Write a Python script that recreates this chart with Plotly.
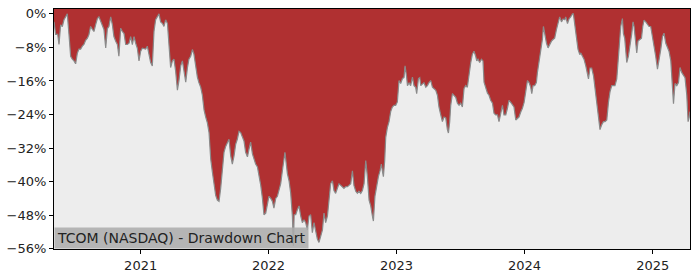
import pandas as pd
import plotly.graph_objects as go

# Time as decimal years
years = [
    2020.323, 2020.336, 2020.352, 2020.362, 2020.375, 2020.388, 2020.401, 2020.414, 2020.427, 2020.440,
    2020.453, 2020.466, 2020.479, 2020.492, 2020.505, 2020.518, 2020.531, 2020.544, 2020.557, 2020.570,
    2020.584, 2020.596, 2020.609, 2020.623, 2020.635, 2020.648, 2020.662, 2020.674, 2020.688, 2020.701,
    2020.713, 2020.727, 2020.740, 2020.752, 2020.766, 2020.779, 2020.791, 2020.805, 2020.818, 2020.830,
    2020.844, 2020.857, 2020.870, 2020.883, 2020.896, 2020.909, 2020.922, 2020.935, 2020.948, 2020.961,
    2020.974, 2020.987, 2021.000, 2021.013, 2021.026, 2021.039, 2021.052, 2021.065, 2021.078, 2021.091,
    2021.104, 2021.117, 2021.130, 2021.143, 2021.156, 2021.170, 2021.182, 2021.195, 2021.209, 2021.221,
    2021.234, 2021.248, 2021.260, 2021.273, 2021.287, 2021.299, 2021.313, 2021.326, 2021.338, 2021.352,
    2021.365, 2021.377, 2021.391, 2021.404, 2021.416, 2021.430, 2021.443, 2021.455, 2021.469, 2021.482,
    2021.495, 2021.508, 2021.521, 2021.534, 2021.547, 2021.560, 2021.573, 2021.586, 2021.599, 2021.612,
    2021.625, 2021.638, 2021.651, 2021.664, 2021.677, 2021.690, 2021.703, 2021.716, 2021.729, 2021.742,
    2021.755, 2021.768, 2021.781, 2021.795, 2021.807, 2021.820, 2021.834, 2021.846, 2021.859, 2021.873,
    2021.885, 2021.898, 2021.912, 2021.924, 2021.938, 2021.951, 2021.963, 2021.977, 2021.990, 2022.002,
    2022.016, 2022.029, 2022.041, 2022.055, 2022.068, 2022.080, 2022.094, 2022.107, 2022.120, 2022.127,
    2022.133, 2022.146, 2022.159, 2022.172, 2022.185, 2022.193, 2022.199, 2022.211, 2022.224, 2022.237,
    2022.250, 2022.263, 2022.276, 2022.289, 2022.302, 2022.315, 2022.328, 2022.341, 2022.354, 2022.367,
    2022.380, 2022.393, 2022.406, 2022.420, 2022.432, 2022.445, 2022.459, 2022.471, 2022.484, 2022.498,
    2022.510, 2022.523, 2022.537, 2022.549, 2022.563, 2022.576, 2022.588, 2022.602, 2022.615, 2022.627,
    2022.641, 2022.654, 2022.666, 2022.680, 2022.693, 2022.705, 2022.719, 2022.732, 2022.745, 2022.758,
    2022.771, 2022.784, 2022.797, 2022.810, 2022.818, 2022.830, 2022.844, 2022.857, 2022.870, 2022.880,
    2022.888, 2022.896, 2022.906, 2022.914, 2022.927, 2022.940, 2022.953, 2022.966, 2022.979, 2022.992,
    2023.005, 2023.013, 2023.018, 2023.031, 2023.045, 2023.057, 2023.065, 2023.076, 2023.084, 2023.096,
    2023.109, 2023.123, 2023.135, 2023.148, 2023.156, 2023.170, 2023.180, 2023.188, 2023.201, 2023.213,
    2023.227, 2023.240, 2023.252, 2023.266, 2023.279, 2023.291, 2023.305, 2023.318, 2023.330, 2023.344,
    2023.357, 2023.370, 2023.383, 2023.396, 2023.404, 2023.414, 2023.422, 2023.435, 2023.448, 2023.461,
    2023.474, 2023.487, 2023.500, 2023.513, 2023.526, 2023.539, 2023.552, 2023.565, 2023.578, 2023.591,
    2023.604, 2023.617, 2023.625, 2023.635, 2023.648, 2023.662, 2023.674, 2023.682, 2023.695, 2023.709,
    2023.721, 2023.734, 2023.748, 2023.760, 2023.773, 2023.787, 2023.799, 2023.813, 2023.826, 2023.838,
    2023.852, 2023.865, 2023.877, 2023.891, 2023.904, 2023.916, 2023.930, 2023.943, 2023.955, 2023.969,
    2023.982, 2023.995, 2024.008, 2024.021, 2024.034, 2024.047, 2024.055, 2024.065, 2024.078, 2024.091,
    2024.099, 2024.112, 2024.125, 2024.138, 2024.146, 2024.156, 2024.170, 2024.182, 2024.195, 2024.209,
    2024.221, 2024.234, 2024.248, 2024.260, 2024.273, 2024.287, 2024.299, 2024.313, 2024.320, 2024.334,
    2024.346, 2024.359, 2024.373, 2024.380, 2024.391, 2024.404, 2024.416, 2024.430, 2024.438, 2024.451,
    2024.463, 2024.477, 2024.490, 2024.498, 2024.510, 2024.523, 2024.537, 2024.549, 2024.563, 2024.576,
    2024.588, 2024.602, 2024.615, 2024.627, 2024.641, 2024.654, 2024.666, 2024.680, 2024.693, 2024.705,
    2024.719, 2024.729, 2024.742, 2024.750, 2024.763, 2024.771, 2024.781, 2024.789, 2024.797, 2024.810,
    2024.823, 2024.836, 2024.846, 2024.854, 2024.862, 2024.875, 2024.885, 2024.898, 2024.912, 2024.922,
    2024.932, 2024.945, 2024.959, 2024.971, 2024.984, 2024.998, 2025.010, 2025.023, 2025.037, 2025.049,
    2025.063, 2025.076, 2025.088, 2025.102, 2025.115, 2025.127, 2025.141, 2025.154, 2025.162, 2025.174,
    2025.188, 2025.201, 2025.213, 2025.227, 2025.240, 2025.252, 2025.266, 2025.276, 2025.284, 2025.291,
]

# Drawdown in percent
drawdown = [
    -1.9, -4.9, -4.9, -7.3, -2.6, -3.0, -1.4, -0.7, 0.0, -4.9,
    -10.1, -10.8, -11.2, -11.9, -9.4, -8.4, -8.4, -7.7, -7.3, -6.3,
    -5.8, -4.9, -3.0, -3.7, -4.2, -2.6, -1.1, -0.7, -1.9, -3.0,
    -3.7, -8.1, -3.5, -3.0, -0.7, -2.6, -5.4, -6.5, -7.3, -10.1,
    -3.4, -4.2, -4.7, -7.3, -7.3, -7.0, -5.4, -7.3, -5.4, -7.0,
    -8.2, -11.2, -8.9, -8.2, -8.4, -8.4, -7.7, -9.6, -11.6, -12.4,
    -4.2, -1.4, -0.7, 0.0, -1.9, -2.3, -3.0, -1.4, -2.3, -6.5,
    -12.8, -11.2, -10.8, -13.6, -18.2, -15.9, -12.4, -11.2, -13.6, -16.3,
    -12.9, -10.8, -10.1, -8.5, -9.6, -12.9, -15.1, -16.4, -17.5, -19.4,
    -22.9, -24.6, -26.0, -28.3, -34.6, -37.7, -40.0, -43.3, -44.4, -44.7,
    -41.6, -37.0, -33.0, -31.6, -30.6, -29.9, -33.8, -35.8, -33.9, -31.1,
    -29.9, -28.0, -28.3, -29.2, -30.3, -33.0, -34.1, -32.3, -30.6, -33.4,
    -34.6, -35.8, -36.5, -38.5, -40.9, -44.0, -47.9, -47.5, -45.1, -43.5,
    -44.0, -44.7, -46.3, -44.0, -43.5, -42.1, -40.5, -37.4, -33.4, -33.0,
    -34.6, -38.1, -39.8, -42.8, -48.2, -55.3, -47.9, -47.9, -46.7, -45.8,
    -48.2, -49.8, -49.1, -49.8, -51.5, -48.2, -47.9, -52.2, -49.8, -52.2,
    -53.7, -54.5, -52.9, -51.5, -47.5, -49.8, -48.2, -45.1, -40.5, -39.8,
    -42.1, -42.8, -41.6, -40.5, -40.9, -41.2, -41.6, -41.2, -41.2, -40.9,
    -40.5, -37.4, -40.9, -42.3, -42.8, -42.3, -42.8, -42.1, -40.5, -35.0,
    -38.8, -44.4, -45.8, -48.2, -49.4, -43.5, -40.5, -38.8, -37.4, -35.8,
    -37.4, -38.8, -35.1, -29.5, -27.1, -25.7, -23.3, -22.2, -21.8, -21.8,
    -21.0, -16.3, -15.9, -16.6, -15.4, -15.2, -12.4, -14.7, -17.1, -16.4,
    -17.1, -15.1, -17.1, -17.5, -19.0, -15.4, -15.2, -17.1, -16.6, -16.4,
    -17.5, -17.1, -16.4, -15.9, -17.5, -17.8, -18.2, -19.4, -22.2, -24.1,
    -25.7, -24.6, -24.8, -27.6, -28.4, -25.7, -21.8, -19.0, -19.4, -19.9,
    -21.3, -21.8, -21.3, -22.2, -17.8, -17.1, -17.5, -14.0, -11.7, -9.6,
    -8.9, -10.1, -11.2, -10.8, -11.6, -10.8, -11.2, -16.3, -17.8, -18.9,
    -19.4, -20.6, -21.3, -23.7, -24.1, -24.1, -25.7, -23.4, -21.8, -24.1,
    -24.1, -22.5, -20.6, -21.1, -21.8, -22.2, -25.3, -24.8, -24.6, -23.4,
    -22.5, -21.1, -17.8, -15.9, -16.4, -17.5, -19.0, -17.1, -17.1, -16.4,
    -14.0, -11.7, -8.5, -6.1, -3.0, -4.7, -7.0, -8.1, -7.3, -6.5,
    -6.1, -5.8, -3.7, -1.9, -0.7, -1.9, -1.2, -1.4, -0.7, -2.3,
    -1.2, -0.7, 0.0, 0.0, -3.0, -5.4, -8.4, -9.7, -9.3, -10.1,
    -10.8, -12.4, -14.7, -15.5, -12.9, -12.9, -14.7, -17.8, -20.1, -23.4,
    -27.6, -26.4, -25.7, -25.7, -25.3, -21.1, -18.6, -17.1, -17.1, -17.1,
    -15.5, -10.8, -6.1, -3.0, -1.1, -4.7, -5.8, -8.4, -11.6, -10.1,
    -7.7, -4.7, -1.9, -3.0, -5.4, -9.3, -6.5, -6.1, -5.8, -3.0,
    -1.5, -1.9, -2.6, -3.0, -3.0, -5.4, -7.7, -10.1, -13.2, -11.2,
    -8.4, -5.4, -4.6, -7.0, -8.2, -8.9, -11.2, -16.4, -21.4, -16.6,
    -17.1, -16.4, -12.8, -14.0, -14.7, -15.2, -19.4, -25.7, -24.8, -23.3,
]

y_ticks = [0, -8, -16, -24, -32, -40, -48, -56]
y_tick_labels = ["0%", "\u22128%", "\u221216%", "\u221224%", "\u221232%", "\u221240%", "\u221248%", "\u221256%"]
x_tick_years = [2021, 2022, 2023, 2024, 2025]
x_tick_labels = ["2021", "2022", "2023", "2024", "2025"]
title_text = "TCOM (NASDAQ) - Drawdown Chart"

y_top, y_bottom = 1.17, -56.07

base = pd.Timestamp("2021-01-01")
def to_date(yr):
    return base + pd.to_timedelta((yr - 2021) * 365.25, unit="D")

dates = [to_date(v) for v in years]
tick_dates = [pd.Timestamp(f"{y}-01-01") for y in x_tick_years]

fig = go.Figure()
# invisible baseline at the bottom of the axis
fig.add_trace(go.Scatter(x=dates, y=[y_bottom] * len(dates), mode="lines",
                         line=dict(width=0, color="rgba(0,0,0,0)"),
                         hoverinfo="skip", showlegend=False))
# drawdown line, light grey fill beneath it
fig.add_trace(go.Scatter(x=dates, y=drawdown, mode="lines",
                         line=dict(color="#8a8a8a", width=1.2),
                         fill="tonexty", fillcolor="#ededed",
                         showlegend=False))

fig.update_layout(
    width=700, height=280,
    margin=dict(l=53, r=10, t=7, b=28),
    paper_bgcolor="white",
    plot_bgcolor="#b03031",
    font=dict(family="DejaVu Sans", size=13, color="#222222"),
    showlegend=False,
)
fig.update_xaxes(
    type="date", range=[dates[0], dates[-1]],
    tickvals=tick_dates, ticktext=x_tick_labels,
    showgrid=False, zeroline=False,
    showline=True, linecolor="black", linewidth=1, mirror=True,
    ticks="outside", ticklen=4, tickcolor="black", tickwidth=1,
    tickfont=dict(size=13, color="#222222"),
)
fig.update_yaxes(
    range=[y_bottom, y_top],
    tickvals=y_ticks, ticktext=y_tick_labels,
    showgrid=False, zeroline=False,
    showline=True, linecolor="black", linewidth=1, mirror=True,
    ticks="outside", ticklen=4, tickcolor="black", tickwidth=1,
    tickfont=dict(size=13, color="#222222"),
)
fig.add_annotation(
    text=title_text, xref="paper", yref="paper", x=0, y=0,
    xanchor="left", yanchor="bottom", showarrow=False,
    font=dict(family="DejaVu Sans", size=14, color="#222222"),
    bgcolor="rgba(170,170,170,0.85)", borderpad=2,
)

fig.write_html("out.html")
